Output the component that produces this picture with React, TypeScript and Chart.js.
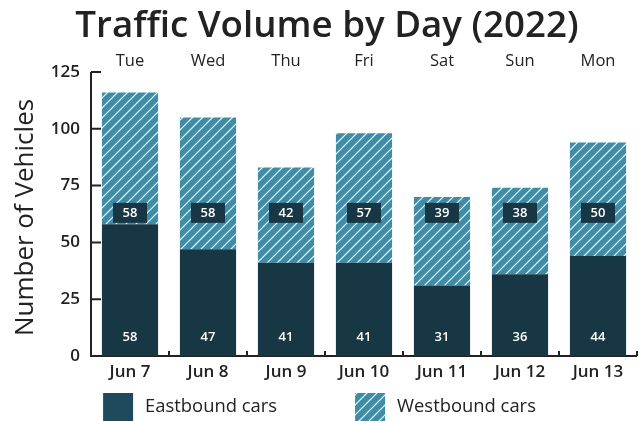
import React, { useEffect, useRef } from 'react';
import { Chart, registerables } from 'chart.js';

Chart.register(...registerables);

const TITLE = 'Traffic Volume by Day (2022)';
const Y_TITLE = 'Number of Vehicles';
const DATES = ['Jun 7', 'Jun 8', 'Jun 9', 'Jun 10', 'Jun 11', 'Jun 12', 'Jun 13'];
const DAYS = ['Tue', 'Wed', 'Thu', 'Fri', 'Sat', 'Sun', 'Mon'];
const SERIES_NAMES = ['Eastbound cars', 'Westbound cars'];
const EASTBOUND = [58, 47, 41, 41, 31, 36, 44];
const WESTBOUND = [58, 58, 42, 57, 39, 38, 50];
const Y_TICKS = [0, 25, 50, 75, 100, 125];
const WEST_LABEL_AT = 63;

const FONT = "'Open Sans', 'Noto Sans', sans-serif";
const DARK = '#173745';
const LEGEND_DARK = '#1f4a5b';
const TEAL = '#3e8ca6';
const TEXT = '#222222';

function makeHatch(bg: string, line: string) {
  const c = document.createElement('canvas');
  c.width = 10;
  c.height = 10;
  const g = c.getContext('2d')!;
  g.fillStyle = bg;
  g.fillRect(0, 0, 10, 10);
  g.strokeStyle = line;
  g.lineWidth = 1.2;
  g.beginPath();
  g.moveTo(-1, 11);
  g.lineTo(11, -1);
  g.moveTo(-1, 1);
  g.lineTo(1, -1);
  g.moveTo(9, 11);
  g.lineTo(11, 9);
  g.stroke();
  return g.createPattern(c, 'repeat')!;
}

const axesPlugin = {
  id: 'customAxes',
  beforeDatasetsDraw(chart: any) {
    const { ctx, chartArea, scales } = chart;
    const x = scales.x;
    const y = scales.y;
    const { left, right, bottom } = chartArea;
    ctx.save();
    ctx.strokeStyle = TEXT;
    ctx.lineWidth = 2;
    ctx.beginPath();
    ctx.moveTo(left, y.getPixelForValue(Y_TICKS[Y_TICKS.length - 1]));
    ctx.lineTo(left, bottom);
    ctx.lineTo(right, bottom);
    ctx.stroke();
    ctx.beginPath();
    Y_TICKS.forEach((v) => {
      const py = y.getPixelForValue(v);
      ctx.moveTo(left, py);
      ctx.lineTo(left + 10, py);
    });
    for (let i = 1; i <= DATES.length; i++) {
      const px = x.getPixelForValue(i - 0.5);
      ctx.moveTo(px, bottom);
      ctx.lineTo(px, bottom - 5);
    }
    ctx.stroke();
    ctx.restore();
  },
};

const labelPlugin = {
  id: 'barLabels',
  afterDatasetsDraw(chart: any) {
    const { ctx, scales } = chart;
    const x = scales.x;
    const y = scales.y;
    ctx.save();
    ctx.font = `600 13px ${FONT}`;
    ctx.textAlign = 'center';
    ctx.textBaseline = 'middle';
    DATES.forEach((_, i) => {
      const cx = x.getPixelForValue(i);
      ctx.fillStyle = '#ffffff';
      ctx.fillText(String(EASTBOUND[i]), cx, y.getPixelForValue(0) - 19);
      const wy = y.getPixelForValue(WEST_LABEL_AT);
      ctx.fillStyle = DARK;
      ctx.fillRect(cx - 17, wy - 10, 34, 20);
      ctx.fillStyle = '#ffffff';
      ctx.fillText(String(WESTBOUND[i]), cx, wy);
    });
    ctx.restore();
  },
};

const textPlugin = {
  id: 'titles',
  afterDraw(chart: any) {
    const { ctx, chartArea } = chart;
    ctx.save();
    ctx.fillStyle = TEXT;
    ctx.font = `600 36.7px ${FONT}`;
    ctx.textAlign = 'center';
    ctx.textBaseline = 'alphabetic';
    ctx.fillText(TITLE, 327, 37);
    ctx.translate(25.6, (chartArea.top + chartArea.bottom) / 2 + 3.5);
    ctx.rotate(-Math.PI / 2);
    ctx.font = `500 26px ${FONT}`;
    ctx.textBaseline = 'middle';
    ctx.fillText(Y_TITLE, 0, 0);
    ctx.restore();
  },
};

const legendPlugin = {
  id: 'customLegend',
  afterDraw(chart: any) {
    const { ctx, width, height } = chart;
    ctx.save();
    ctx.font = `500 18.4px ${FONT}`;
    ctx.textBaseline = 'middle';
    ctx.textAlign = 'left';
    const boxW = 30;
    const boxH = 28;
    const gapText = 12;
    const gapItems = 78;
    const fills = [LEGEND_DARK, chart.data.datasets[1].backgroundColor];
    const widths = SERIES_NAMES.map((n) => boxW + gapText + ctx.measureText(n).width);
    const total = widths.reduce((a, b) => a + b, 0) + gapItems * (widths.length - 1);
    let xPos = (width - total) / 2;
    const top = height - boxH;
    SERIES_NAMES.forEach((name, i) => {
      ctx.fillStyle = fills[i];
      ctx.fillRect(xPos, top, boxW, boxH);
      ctx.fillStyle = TEXT;
      ctx.fillText(name, xPos + boxW + gapText, top + boxH / 2);
      xPos += widths[i] + gapItems;
    });
    ctx.restore();
  },
};

export default function App() {
  const ref = useRef<HTMLCanvasElement>(null);

  useEffect(() => {
    document.body.style.margin = '0';
    const hatch = makeHatch(TEAL, '#ffffff');
    const chart = new Chart(ref.current!, {
      type: 'bar',
      data: {
        labels: DATES,
        datasets: [
          { label: SERIES_NAMES[0], data: EASTBOUND, backgroundColor: DARK, borderWidth: 0 },
          { label: SERIES_NAMES[1], data: WESTBOUND, backgroundColor: hatch as any, borderWidth: 0 },
        ],
      },
      options: {
        animation: false,
        responsive: false,
        maintainAspectRatio: false,
        layout: { padding: { left: 0, right: 2, top: 49.2, bottom: 40 } },
        plugins: {
          legend: { display: false },
          tooltip: { enabled: false },
          title: { display: false },
        },
        scales: {
          x: {
            stacked: true,
            position: 'bottom',
            grid: { display: false, drawTicks: false, tickLength: 0 },
            border: { display: false },
            ticks: { color: TEXT, padding: 6, font: { family: FONT, size: 17, weight: '600' as any } },
            afterFit: (s: any) => { s.height = 25; },
          },
          x2: {
            type: 'category',
            labels: DAYS,
            position: 'top',
            offset: true,
            grid: { display: false, drawTicks: false, tickLength: 0 },
            border: { display: false },
            ticks: { color: TEXT, padding: 0.5, font: { family: FONT, size: 16.5, weight: '500' as any } },
            afterFit: (s: any) => { s.height = 22.8; },
          },
          y: {
            stacked: true,
            min: 0,
            max: 125,
            grid: { display: false, drawTicks: false, tickLength: 0 },
            border: { display: false },
            afterBuildTicks: (s: any) => { s.ticks = Y_TICKS.map((v) => ({ value: v })); },
            ticks: { color: TEXT, padding: 11, font: { family: FONT, size: 17, weight: '600' as any } },
            afterFit: (s: any) => { s.width = 91; },
          },
        },
      },
      plugins: [axesPlugin, labelPlugin, textPlugin, legendPlugin],
    });
    return () => chart.destroy();
  }, []);

  return (
    <div style={{ width: 639, height: 421 }}>
      <canvas ref={ref} width={639} height={421} style={{ display: 'block' }} />
    </div>
  );
}
